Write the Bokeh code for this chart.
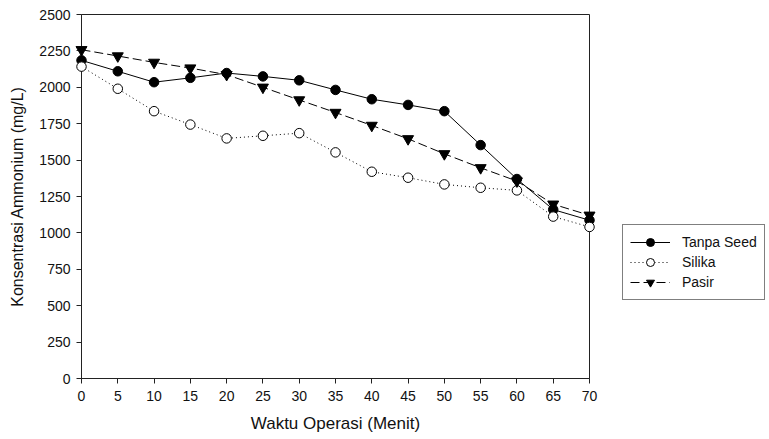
from bokeh.plotting import figure
from bokeh.layouts import row
from bokeh.models import Range1d, Legend, LegendItem, FixedTicker, ColumnDataSource
from bokeh.embed import file_html
from bokeh.resources import INLINE

waktu = [0, 5, 10, 15, 20, 25, 30, 35, 40, 45, 50, 55, 60, 65, 70]
tanpa_seed = [2185, 2110, 2035, 2065, 2098, 2075, 2048, 1982, 1918, 1879, 1836, 1603, 1370, 1160, 1087]
silika = [2142, 1990, 1836, 1744, 1649, 1667, 1685, 1553, 1420, 1379, 1333, 1310, 1292, 1112, 1041]
pasir = [2258, 2215, 2171, 2132, 2087, 2000, 1913, 1827, 1738, 1646, 1543, 1447, 1356, 1197, 1121]
series_names = ["Tanpa Seed", "Silika", "Pasir"]
x_ticks = list(range(0, 75, 5))
y_ticks = list(range(0, 2750, 250))

FONT = "Liberation Sans"
INK = "#111111"

p = figure(width=600, height=439, output_backend="svg", toolbar_location=None,
           x_range=Range1d(0, 70), y_range=Range1d(0, 2500))
p.min_border_left = 81
p.min_border_top = 14
p.min_border_right = 11
p.min_border_bottom = 61
p.xgrid.visible = False
p.ygrid.visible = False
p.outline_line_color = "#222222"
p.outline_line_width = 1
p.background_fill_color = "white"
p.border_fill_color = "white"

for ax in (p.xaxis[0], p.yaxis[0]):
    ax.axis_line_color = "#222222"
    ax.major_tick_line_color = "#222222"
    ax.minor_tick_line_color = None
    ax.major_tick_in = 0
    ax.major_tick_out = 5
    ax.major_label_text_font = FONT
    ax.major_label_text_font_size = "14px"
    ax.major_label_text_color = INK
    ax.axis_label_text_font = FONT
    ax.axis_label_text_font_style = "normal"
    ax.axis_label_text_color = INK

p.xaxis.axis_label_text_font_size = "17px"
p.yaxis.axis_label_text_font_size = "16px"
p.xaxis.ticker = FixedTicker(ticks=x_ticks)
p.yaxis.ticker = FixedTicker(ticks=y_ticks)
p.xaxis.axis_label = "Waktu Operasi (Menit)"
p.yaxis.axis_label = "Konsentrasi Ammonium (mg/L)"
p.xaxis.major_label_standoff = 7
p.yaxis.major_label_standoff = 6
p.xaxis.axis_label_standoff = 10
p.yaxis.axis_label_standoff = 10

src = ColumnDataSource(dict(x=waktu, t=tanpa_seed, s=silika, pa=pasir))

STY = [
    dict(line=dict(line_dash="solid"), marker="circle", size=9.5, fill="black"),
    dict(line=dict(line_dash="1 3"), marker="circle", size=9.5, fill="white"),
    dict(line=dict(line_dash="9 4"), marker="inverted_triangle", size=11, fill="black"),
]
cols = ["t", "s", "pa"]

for col, st in zip(cols, STY):
    p.line("x", col, source=src, line_color="black", line_width=1, level="overlay", **st["line"])
    p.scatter("x", col, source=src, marker=st["marker"], size=st["size"], fill_color=st["fill"],
              line_color="black", level="overlay")

# legend panel (its glyph renderers hold one point placed outside the visible range)
q = figure(width=169, height=439, output_backend="svg", toolbar_location=None,
           x_range=Range1d(0, 1), y_range=Range1d(0, 1))
q.min_border = 0
q.axis.visible = False
q.grid.visible = False
q.outline_line_color = None
q.background_fill_color = "white"
q.border_fill_color = "white"

hidden = ColumnDataSource(dict(x=[-50], y=[-50]))
items = []
for name, st in zip(series_names, STY):
    lr = q.line("x", "y", source=hidden, line_color="black", line_width=1, **st["line"])
    mr = q.scatter("x", "y", source=hidden, marker=st["marker"], size=st["size"],
                   fill_color=st["fill"], line_color="black")
    items.append(LegendItem(label=name, renderers=[lr, mr]))

legend = Legend(items=items, location=(22, 78))
legend.border_line_color = "black"
legend.border_line_width = 1
legend.background_fill_alpha = 1
legend.label_text_font = FONT
legend.label_text_font_size = "14px"
legend.label_text_color = INK
legend.glyph_width = 40
legend.glyph_height = 20
legend.label_height = 20
legend.spacing = 0
legend.padding = 7
legend.margin = 0
legend.label_standoff = 12
q.add_layout(legend, "center")

layout = row(p, q, spacing=0)
open("out.html", "w").write(file_html(layout, INLINE))
